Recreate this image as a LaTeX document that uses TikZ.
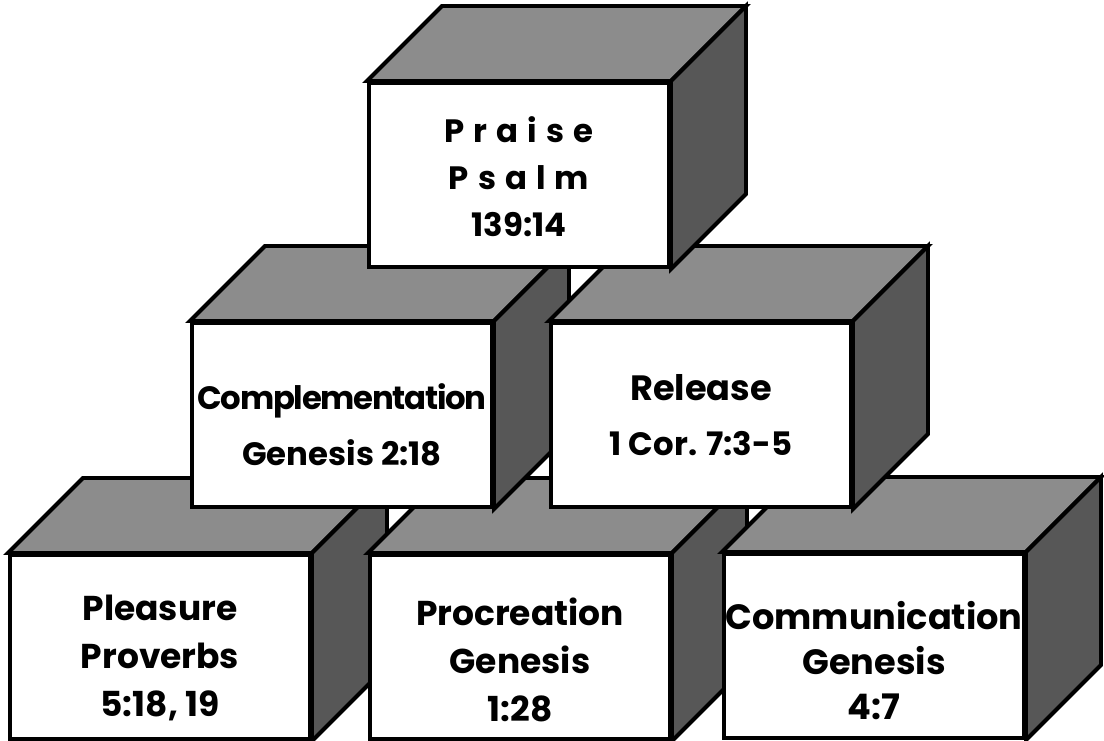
\documentclass[tikz,border=0pt]{standalone}
\usepackage{fontspec}
\setmainfont{Poppins}
\usepackage{tikz}

\begin{document}
\begin{tikzpicture}[
    x=0.025cm, y=-0.025cm,
    front/.style={draw=black, line width=2.8pt, fill=white, minimum width=7.5cm, minimum height=4.6cm, inner sep=0pt},
    topface/.style={draw=black, line width=2.8pt, line join=miter, fill=black!45},
    sideface/.style={draw=black, line width=2.8pt, line join=miter, fill=black!66},
    back/.style={shift={(75,-75)}},
    txt/.style={align=center, inner sep=0pt, font=\bfseries\fontsize{24.5}{34}\selectfont},
    wide/.style={font=\bfseries\fontsize{23}{39.5}\selectfont},
  ]
    \useasboundingbox (0,0) rectangle (1104,741);

    % bottom row, left to right
    \node[front] (pleasure) at (160,647) {};
    \node[txt] (pleasure text) at ([shift={(0,11)}]pleasure.center) {Pleasure\\Proverbs\\5:18, 19};
    \draw[topface] (pleasure.north west) -- ([back]pleasure.north west) -- ([back]pleasure.north east) -- (pleasure.north east) -- cycle;
    \draw[sideface] (pleasure.north east) -- ([back]pleasure.north east) -- ([back]pleasure.south east) -- (pleasure.south east) -- cycle;

    \node[front] (procreation) at (520,647) {};
    \node[txt] (procreation text) at ([shift={(0,13)}]procreation.center) {Procreation\\Genesis\\1:28};
    \draw[topface] (procreation.north west) -- ([back]procreation.north west) -- ([back]procreation.north east) -- (procreation.north east) -- cycle;
    \draw[sideface] (procreation.north east) -- ([back]procreation.north east) -- ([back]procreation.south east) -- (procreation.south east) -- cycle;

    \node[front] (communication) at (874,646) {};
    \node[txt, font=\bfseries\fontsize{25}{32}\selectfont] (communication text) at ([shift={(0,15)}]communication.center) {Communication\\Genesis\\4:7};
    \draw[topface] (communication.north west) -- ([back]communication.north west) -- ([back]communication.north east) -- (communication.north east) -- cycle;
    \draw[sideface] (communication.north east) -- ([back]communication.north east) -- ([back]communication.south east) -- (communication.south east) -- cycle;

    % middle row
    \node[front] (complementation) at (342,415) {};
    \node[txt, wide] (complementation text) at ([shift={(0,10)}]complementation.center) {{\addfontfeature{LetterSpace=-4}Complementation}\\Genesis 2:18};
    \draw[topface] (complementation.north west) -- ([back]complementation.north west) -- ([back]complementation.north east) -- (complementation.north east) -- cycle;
    \draw[sideface] (complementation.north east) -- ([back]complementation.north east) -- ([back]complementation.south east) -- (complementation.south east) -- cycle;

    \node[front] (release) at (701,415) {};
    \node[txt, wide] (release text) at (release.center) {{\fontsize{25}{39.5}\selectfont Release}\\1 Cor. 7:3-5};
    \draw[topface] (release.north west) -- ([back]release.north west) -- ([back]release.north east) -- (release.north east) -- cycle;
    \draw[sideface] (release.north east) -- ([back]release.north east) -- ([back]release.south east) -- (release.south east) -- cycle;

    % top of the pile
    \node[front] (praise) at (519,175) {};
    \node[txt, font=\bfseries\fontsize{23}{33.5}\selectfont] (praise text) at ([shift={(0,2)}]praise.center) {{\addfontfeature{LetterSpace=28}Praise}\\{\addfontfeature{LetterSpace=28}Psalm}\\139:14};
    \draw[topface] (praise.north west) -- ([back]praise.north west) -- ([back]praise.north east) -- (praise.north east) -- cycle;
    \draw[sideface] (praise.north east) -- ([back]praise.north east) -- ([back]praise.south east) -- (praise.south east) -- cycle;
  \end{tikzpicture}
\end{document}
